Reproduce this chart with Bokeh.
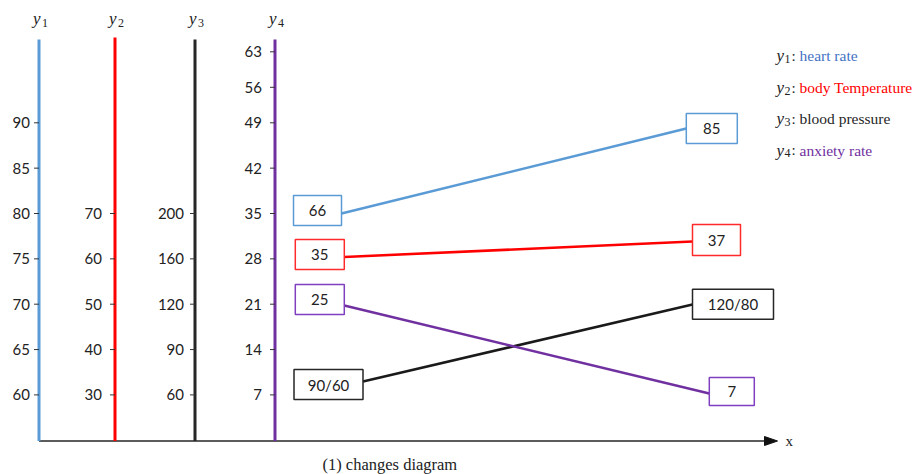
from bokeh.plotting import figure
from bokeh.models import Range1d
from bokeh.embed import file_html
from bokeh.resources import INLINE
from bokeh.core.properties import value

# ---------------- data ----------------
y1_ticks = [60, 65, 70, 75, 80, 85, 90]
y2_ticks = [30, 40, 50, 60, 70]
y3_ticks = [60, 90, 120, 160, 200]
y4_ticks = [7, 14, 21, 28, 35, 42, 49, 56, 63]
axis_subscripts = ["1", "2", "3", "4"]
series_names = ["heart rate", "body Temperature", "blood pressure", "anxiety rate"]
before_values = ["66", "35", "90/60", "25"]
after_values = ["85", "37", "120/80", "7"]
x_label = "x"
caption = "(1) changes diagram"

# ---------------- styles ----------------
axis_colors = ["#5B9BD5", "#FF0000", "#262626", "#7030A0"]
legend_colors = ["#4472C4", "#FF0000", "#262626", "#7030A0"]
box_colors = ["#5B9BD5", "#FF2A2A", "#262626", "#7F3FBF"]
line_colors = ["#5B9BD5", "#FF0000", "#1A1A1A", "#7030A0"]
SANS = value("Lato")
SERIF = value("Liberation Serif")

# ---------------- layout (page pixels) ----------------
W, H = 915, 474
axis_x = [38.5, 114.5, 194.5, 274.5]
axis_top = [39, 37, 39, 39]
base_y = 440.5
label_gap = [9, 13, 11, 13]


def tick_y(i):
    if i <= 6:
        return 394.4 - 45.35 * i
    return 394.4 - 45.35 * 6 - 35.5 * (i - 6)


left_boxes = [(317, 210, 48, 30), (319.3, 254, 49, 30), (328, 384, 69, 30), (319.3, 299, 49, 30)]
right_boxes = [(711.3, 128, 51, 30), (716, 239.5, 48, 31), (732.5, 303.7, 81, 30), (731.3, 391, 45, 28)]
line_start_y = [213, 256.5, 381, 305]
line_end_y = [128, 241, 304, 393]

p = figure(width=W, height=H, x_range=Range1d(0, W), y_range=Range1d(H, 0),
           x_axis_type=None, y_axis_type=None, toolbar_location=None,
           output_backend="svg", min_border=0)
p.grid.visible = False
p.outline_line_color = None
p.background_fill_color = "white"

# x axis with arrow
p.segment(x0=[axis_x[0]], y0=[base_y], x1=[767], y1=[base_y], line_color="#262626", line_width=1.5)
p.patch(x=[764, 777, 764], y=[base_y - 4.5, base_y, base_y + 4.5], fill_color="#111111", line_color="#111111")
p.text(x=[785], y=[base_y], text=[x_label], text_font=SERIF, text_font_size="15px",
       text_color="#222222", text_baseline="middle", text_align="left")

# vertical axes
all_ticks = [y1_ticks, y2_ticks, y3_ticks, y4_ticks]
for k, ticks in enumerate(all_ticks):
    ax = axis_x[k]
    p.segment(x0=[ax], y0=[axis_top[k]], x1=[ax], y1=[base_y], line_color=axis_colors[k], line_width=3)
    ys = [tick_y(i) for i in range(len(ticks))]
    p.segment(x0=[ax - 5] * len(ys), y0=ys, x1=[ax] * len(ys), y1=ys, line_color="#333333", line_width=1)
    p.text(x=[ax - label_gap[k]] * len(ys), y=ys, text=[str(t) for t in ticks], text_font=SANS,
           text_font_size="15px", text_color="#222222", text_align="right", text_baseline="middle")
    # axis title y_k
    p.text(x=[ax - 6], y=[18], text=["y"], text_font=SERIF, text_font_style="italic",
           text_font_size="17px", text_color="#222222", text_align="left", text_baseline="middle")
    p.text(x=[ax + 3], y=[22], text=[axis_subscripts[k]], text_font=SERIF,
           text_font_size="12px", text_color="#222222", text_align="left", text_baseline="middle")

# legend
leg_y = [55, 87, 118, 149.5]
for k, name in enumerate(series_names):
    p.text(x=[776], y=[leg_y[k]], text=["y"], text_font=SERIF, text_font_style="italic",
           text_font_size="17px", text_color="#222222", text_baseline="middle")
    p.text(x=[784], y=[leg_y[k] + 3], text=[axis_subscripts[k]], text_font=SERIF,
           text_font_size="12px", text_color="#222222", text_baseline="middle")
    p.text(x=[791], y=[leg_y[k]], text=[":"], text_font=SERIF,
           text_font_size="15px", text_color="#222222", text_baseline="middle")
    p.text(x=[799], y=[leg_y[k]], text=[name], text_font=SERIF,
           text_font_size="15.5px", text_color=legend_colors[k], text_baseline="middle")

# connecting lines
for k in range(4):
    lb = left_boxes[k]
    rb = right_boxes[k]
    p.segment(x0=[lb[0] + lb[2] / 2], y0=[line_start_y[k]], x1=[rb[0] - rb[2] / 2], y1=[line_end_y[k]],
              line_color=line_colors[k], line_width=2.5)

# boxes
for boxes, labels in ((left_boxes, before_values), (right_boxes, after_values)):
    for k, (cx, cy, w, h) in enumerate(boxes):
        p.rect(x=[cx], y=[cy], width=[w], height=[h], fill_color="white",
               line_color=box_colors[k], line_width=1.5)
        p.text(x=[cx], y=[cy], text=[labels[k]], text_font=SANS, text_font_size="15px",
               text_color="#222222", text_align="center", text_baseline="middle")

# caption
p.text(x=[322], y=[464], text=[caption], text_font=SERIF, text_font_size="16.5px",
       text_color="#222222", text_baseline="middle", text_align="left")

open("out.html", "w").write(file_html(p, INLINE))
